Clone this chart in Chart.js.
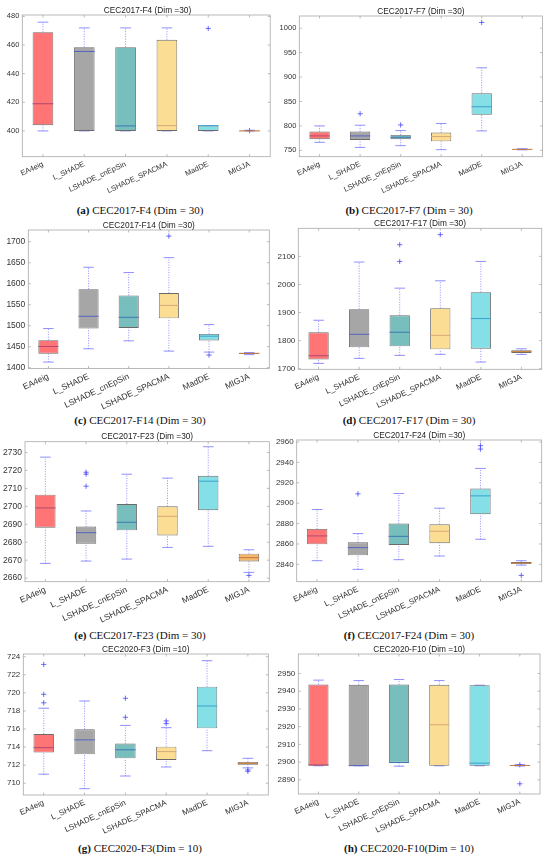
<!DOCTYPE html>
<html>
<head>
<meta charset="utf-8">
<script src="https://cdn.jsdelivr.net/npm/chart.js@4.4.1/dist/chart.umd.min.js"></script>
<style>
  html, body { margin: 0; padding: 0; background: #fff; }
  body { width: 550px; height: 857px; position: relative; overflow: hidden; }
  .panel { position: absolute; width: 275px; height: 200px; }
  .ttl { position: absolute; font-family: 'Liberation Sans', Arial, sans-serif; font-size: 8.3px; line-height: 9px;
         color: #222; white-space: nowrap; transform: translateX(-50%); }
  .cap { position: absolute; font-family: 'Liberation Serif', 'DejaVu Serif', serif; font-size: 11px; line-height: 12px;
         color: #111; white-space: nowrap; transform: translateX(-50%); }
</style>
</head>
<body>
<script>
const methods = ['EA4eig', 'L_SHADE', 'LSHADE_cnEpSin', 'LSHADE_SPACMA', 'MadDE', 'MIGJA'];

// one row per method: [low whisker, q1, median, q3, high whisker]
const f4Stats = [
    [400, 404, 419, 469, 476],
    [400, 400, 455.5, 458.5, 472],
    [400, 400, 403.5, 458.5, 472],
    [400, 400, 403.7, 463.7, 472],
    [400, 400, 403.7, 403.7, 403.7],
    [400, 400, 400, 400.3, 400.5]
];
const f4Outliers = [[4, 471.6], [5, 400.2]];
const f4Ticks = [400, 420, 440, 460, 480];
const f4Range = [382, 481];

const f7Stats = [
    [766.5, 772.7, 779.5, 788.5, 800],
    [756, 771.3, 779.5, 788.5, 801.5],
    [759.6, 772.7, 776.8, 781.6, 790.5],
    [751.4, 768.5, 778.2, 786.4, 805],
    [789.8, 822.8, 839.3, 866.8, 919],
    [751, 751.5, 752, 752.8, 753.5]
];
const f7Outliers = [[1, 825], [2, 802], [4, 1011.7]];
const f7Ticks = [750, 800, 850, 900, 950, 1000];
const f7Range = [737, 1025];

const f14Stats = [
    [1413.4, 1433.2, 1450.5, 1465.5, 1493.2],
    [1445, 1493.2, 1522.4, 1587.1, 1639.2],
    [1464, 1494.7, 1520, 1572.1, 1626.6],
    [1439.5, 1517.6, 1548.4, 1577.6, 1662.1],
    [1437.1, 1464.7, 1475, 1480.5, 1502.6],
    [1431, 1432.4, 1434, 1435.5, 1436]
];
const f14Outliers = [[3, 1713.4], [4, 1430]];
const f14Ticks = [1400, 1450, 1500, 1550, 1600, 1650, 1700];
const f14Range = [1398, 1728];

const f17Stats = [
    [1719, 1733.3, 1746.4, 1829.8, 1872.6],
    [1736.9, 1776.2, 1822.6, 1911.9, 2079.8],
    [1747.6, 1779.8, 1829.8, 1890.5, 1986.9],
    [1751.2, 1769, 1819, 1915.5, 2013.1],
    [1723.8, 1771.4, 1878.6, 1972.6, 2082],
    [1751, 1756, 1760.7, 1765.5, 1771]
];
const f17Outliers = [[2, 2141.7], [2, 2082], [3, 2177.4]];
const f17Ticks = [1700, 1800, 1900, 2000, 2100];
const f17Range = [1698, 2200];

const f23Stats = [
    [2668.2, 2688.1, 2699.1, 2706.5, 2727.4],
    [2669.5, 2679.2, 2685.3, 2688.7, 2697.4],
    [2670.6, 2686.6, 2691.1, 2701.3, 2717.9],
    [2677.1, 2683.8, 2694.4, 2700, 2715.7],
    [2677.7, 2697.8, 2714, 2717, 2733.2],
    [2663.2, 2669.3, 2671.4, 2673.6, 2675.8]
];
const f23Outliers = [[1, 2719], [1, 2717.9], [1, 2711.2], [5, 2661.5]];
const f23Ticks = [2660, 2670, 2680, 2690, 2700, 2710, 2720, 2730];
const f23Range = [2658, 2736];

const f24Stats = [
    [2843.6, 2859.7, 2867.9, 2874.8, 2893.8],
    [2835.1, 2848.9, 2856.4, 2861.6, 2870.2],
    [2844.6, 2859, 2867.5, 2880, 2909.5],
    [2848.2, 2860.7, 2872.5, 2879.3, 2895.1],
    [2864.6, 2889.2, 2907.2, 2914.4, 2934.1],
    [2839.3, 2840.3, 2841.3, 2842.3, 2843.6]
];
const f24Outliers = [[1, 2909.2], [4, 2956.4], [4, 2953.1], [5, 2829.2]];
const f24Ticks = [2840, 2860, 2880, 2900, 2920, 2940, 2960];
const f24Range = [2823, 2962];

const f3Stats = [
    [711.0, 713.39, 713.94, 715.45, 718.3],
    [709.4, 713.2, 714.8, 715.97, 719.1],
    [710.8, 712.76, 713.7, 714.4, 716.4],
    [711.8, 712.58, 713.5, 714.05, 716.15],
    [713.6, 716.08, 718.55, 720.68, 723.56],
    [711.7, 712.06, 712.2, 712.36, 712.76]
];
const f3Outliers = [[0, 723.15], [0, 719.84], [0, 718.9], [2, 719.4], [2, 717.3],
                    [3, 716.9], [3, 716.6], [5, 711.47], [5, 711.33]];
const f3Ticks = [710, 712, 714, 716, 718, 720, 722, 724];
const f3Range = [708.7, 724.3];

const f10Stats = [
    [2897.9, 2897.9, 2898.4, 2943.8, 2946.25],
    [2897.9, 2897.9, 2898, 2943.6, 2946],
    [2897.7, 2899.75, 2899.75, 2943.8, 2946.6],
    [2897.9, 2897.9, 2921.1, 2943.6, 2946],
    [2897.9, 2897.9, 2899.4, 2943.4, 2943.4],
    [2897.8, 2897.9, 2898.1, 2898.3, 2898.6]
];
const f10Outliers = [[5, 2887.75], [5, 2898.5]];
const f10Ticks = [2890, 2900, 2910, 2920, 2930, 2940, 2950];
const f10Range = [2882, 2961];

// styles
const boxColors = ['#ff7474', '#a6a6a6', '#78bebc', '#fcdd94', '#84dfe6', '#f5b76c'];
const medianColors = ['#b04a70', '#5663c4', '#3c78b4', '#d6a878', '#3ba2cc', '#c87a3a'];
const whiskerColor = '#7272ff';
const frameColor = '#a9a9a9';

// panel layout: col, row top, plot rect [left, top, right, bottom] in page px, font size
const panels = [
    { title: 'CEC2017-F4 (Dim =30)', tag: '(a)', cap: ' CEC2017-F4 (Dim = 30)', stats: f4Stats, outliers: f4Outliers,
      ticks: f4Ticks, range: f4Range, col: 0, y0: 0, rect: [22.3, 15, 272.7, 156.7], fs: 7.5, capY: 210 },
    { title: 'CEC2017-F7 (Dim =30)', tag: '(b)', cap: ' CEC2017-F7 (Dim = 30)', stats: f7Stats, outliers: f7Outliers,
      ticks: f7Ticks, range: f7Range, col: 1, y0: 0, rect: [299.3, 16, 542.5, 156.7], fs: 7.5, capY: 210 },
    { title: 'CEC2017-F14 (Dim =30)', tag: '(c)', cap: ' CEC2017-F14 (Dim = 30)', stats: f14Stats, outliers: f14Outliers,
      ticks: f14Ticks, range: f14Range, col: 0, y0: 210, rect: [28.3, 230, 269.3, 368.5], fs: 8.5, capY: 420 },
    { title: 'CEC2017-F17 (Dim =30)', tag: '(d)', cap: ' CEC2017-F17 (Dim = 30)', stats: f17Stats, outliers: f17Outliers,
      ticks: f17Ticks, range: f17Range, col: 1, y0: 210, rect: [298.3, 228.3, 541.7, 369.3], fs: 8, capY: 420 },
    { title: 'CEC2017-F23 (Dim =30)', tag: '(e)', cap: ' CEC2017-F23 (Dim = 30)', stats: f23Stats, outliers: f23Outliers,
      ticks: f23Ticks, range: f23Range, col: 0, y0: 425, rect: [25, 441.7, 269.3, 581.7], fs: 8.5, capY: 635 },
    { title: 'CEC2017-F24 (Dim =30)', tag: '(f)', cap: ' CEC2017-F24 (Dim = 30)', stats: f24Stats, outliers: f24Outliers,
      ticks: f24Ticks, range: f24Range, col: 1, y0: 425, rect: [296.7, 440, 541.7, 581.7], fs: 8, capY: 635 },
    { title: 'CEC2020-F3 (Dim =10)', tag: '(g)', cap: ' CEC2020-F3(Dim = 10)', stats: f3Stats, outliers: f3Outliers,
      ticks: f3Ticks, range: f3Range, col: 0, y0: 640, rect: [23.3, 654, 268.3, 795], fs: 8, capY: 848 },
    { title: 'CEC2020-F10 (Dim =10)', tag: '(h)', cap: ' CEC2020-F10(Dim = 10)', stats: f10Stats, outliers: f10Outliers,
      ticks: f10Ticks, range: f10Range, col: 1, y0: 640, rect: [298.3, 654, 540, 794], fs: 8, capY: 848 }
];

const PANEL_W = 275, PANEL_H = 200;

// whiskers under the boxes, medians + frame on top
const boxPlot = {
    id: 'boxPlot',
    beforeDatasetsDraw(chart) {
        const stats = chart.options.plugins.boxPlot.stats;
        const { ctx, chartArea: a, scales: { x, y } } = chart;
        const half = x.getPixelForValue(1) - x.getPixelForValue(0);
        ctx.save();
        ctx.beginPath();
        ctx.rect(a.left, a.top, a.width, a.height);
        ctx.clip();
        ctx.strokeStyle = whiskerColor;
        ctx.lineWidth = 0.8;
        stats.forEach((s, i) => {
            const cx = x.getPixelForValue(i);
            ctx.setLineDash([1, 1.5]);
            ctx.beginPath();
            ctx.moveTo(cx, y.getPixelForValue(s[0]));
            ctx.lineTo(cx, y.getPixelForValue(s[1]));
            ctx.moveTo(cx, y.getPixelForValue(s[3]));
            ctx.lineTo(cx, y.getPixelForValue(s[4]));
            ctx.stroke();
            ctx.setLineDash([]);
            ctx.beginPath();
            [s[0], s[4]].forEach(v => {
                const py = y.getPixelForValue(v);
                ctx.moveTo(cx - half * 0.13, py);
                ctx.lineTo(cx + half * 0.13, py);
            });
            ctx.stroke();
        });
        ctx.restore();
    },
    afterDatasetsDraw(chart) {
        const stats = chart.options.plugins.boxPlot.stats;
        const ticks = chart.options.plugins.boxPlot.ticks;
        const { ctx, chartArea: a, scales: { x, y } } = chart;
        const half = x.getPixelForValue(1) - x.getPixelForValue(0);
        ctx.save();
        ctx.lineWidth = 1;
        stats.forEach((s, i) => {
            const cx = x.getPixelForValue(i);
            const py = y.getPixelForValue(s[2]);
            ctx.strokeStyle = medianColors[i];
            ctx.beginPath();
            ctx.moveTo(cx - half * 0.25, py);
            ctx.lineTo(cx + half * 0.25, py);
            ctx.stroke();
        });
        // axes box with inward ticks
        ctx.strokeStyle = frameColor;
        ctx.lineWidth = 0.8;
        ctx.strokeRect(a.left, a.top, a.width, a.height);
        ctx.beginPath();
        ticks.forEach(v => {
            const py = y.getPixelForValue(v);
            ctx.moveTo(a.left, py); ctx.lineTo(a.left + 2.5, py);
            ctx.moveTo(a.right, py); ctx.lineTo(a.right - 2.5, py);
        });
        stats.forEach((s, i) => {
            const px = x.getPixelForValue(i);
            ctx.moveTo(px, a.bottom); ctx.lineTo(px, a.bottom - 2.5);
            ctx.moveTo(px, a.top); ctx.lineTo(px, a.top + 2.5);
        });
        ctx.stroke();
        ctx.restore();
    }
};

function addText(cls, html, cx, top) {
    const d = document.createElement('div');
    d.className = cls;
    d.innerHTML = html;
    d.style.left = cx + 'px';
    d.style.top = top + 'px';
    document.body.appendChild(d);
}

panels.forEach(p => {
    const x0 = p.col * PANEL_W;
    const [L, T, R, B] = p.rect;

    const div = document.createElement('div');
    div.className = 'panel';
    div.style.left = x0 + 'px';
    div.style.top = p.y0 + 'px';
    const cv = document.createElement('canvas');
    cv.width = PANEL_W;
    cv.height = PANEL_H;
    div.appendChild(cv);
    document.body.appendChild(div);

    const font = { family: "'Liberation Sans', Arial, sans-serif", size: p.fs };

    new Chart(cv, {
        type: 'bar',
        data: {
            labels: methods,
            datasets: [{
                data: p.stats.map(s => [s[1], s[3]]),
                backgroundColor: boxColors,
                borderColor: '#6a6a6a',
                borderWidth: 0.9,
                borderSkipped: false,
                barPercentage: 0.5,
                categoryPercentage: 1,
            }, {
                type: 'scatter',
                data: p.outliers.map(o => ({ x: methods[o[0]], y: o[1] })),
                pointStyle: 'cross',
                pointRadius: 2.6,
                borderColor: '#4646ff',
                borderWidth: 0.8,
            }]
        },
        options: {
            responsive: false,
            animation: false,
            layout: {
                padding: { left: 0, bottom: 0, top: T - p.y0, right: x0 + PANEL_W - R }
            },
            plugins: {
                legend: { display: false },
                tooltip: { enabled: false },
                boxPlot: { stats: p.stats, ticks: p.ticks }
            },
            scales: {
                x: {
                    type: 'category',
                    offset: true,
                    grid: { display: false, drawTicks: false },
                    border: { display: false },
                    ticks: { minRotation: 25, maxRotation: 25, autoSkip: false, padding: 3, color: '#333', font: font },
                    afterFit: s => { s.height = p.y0 + PANEL_H - B; }
                },
                y: {
                    min: p.range[0],
                    max: p.range[1],
                    grid: { display: false, drawTicks: false },
                    border: { display: false },
                    ticks: { padding: 3, color: '#333', font: font, callback: v => String(v) },
                    afterBuildTicks: s => { s.ticks = p.ticks.map(v => ({ value: v })); },
                    afterFit: s => { s.width = L - x0; }
                }
            }
        },
        plugins: [boxPlot]
    });

    addText('ttl', p.title, (L + R) / 2, T - 9.5);
    const capX = p.col === 0 ? 140 : 409;
    addText('cap', '<b>' + p.tag + '</b>' + p.cap, capX, p.capY - 6);
});
</script>
</body>
</html>
